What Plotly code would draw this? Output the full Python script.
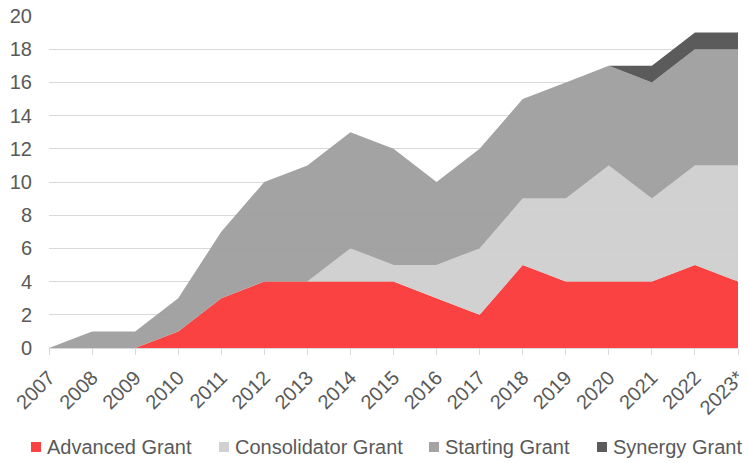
import plotly.graph_objects as go

years = ["2007", "2008", "2009", "2010", "2011", "2012", "2013", "2014", "2015",
         "2016", "2017", "2018", "2019", "2020", "2021", "2022", "2023*"]
advanced = [0, 0, 0, 1, 3, 4, 4, 4, 4, 3, 2, 5, 4, 4, 4, 5, 4]
consolidator = [0, 0, 0, 0, 0, 0, 0, 2, 1, 2, 4, 4, 5, 7, 5, 6, 7]
starting = [0, 1, 1, 2, 4, 6, 7, 7, 7, 5, 6, 6, 7, 6, 7, 7, 7]
synergy = [0, 0, 0, 0, 0, 0, 0, 0, 0, 0, 0, 0, 0, 0, 1, 1, 1]
series_names = ["Advanced Grant", "Consolidator Grant", "Starting Grant", "Synergy Grant"]

colors = ["rgba(250,56,56,0.95)", "rgba(206,206,206,0.93)",
          "rgba(156,156,156,0.93)", "rgba(88,88,88,0.98)"]

W, H = 748, 463
ML, MR, MT, MB = 49, 10, 16, 115
PW, PH = W - ML - MR, H - MT - MB

def px2x(px):
    return (px - ML) / PW

def py2y(py):
    return (H - MB - py) / PH

fig = go.Figure()
for name, vals, col in zip(series_names, [advanced, consolidator, starting, synergy], colors):
    fig.add_trace(go.Scatter(
        x=years, y=vals, name=name, mode="lines", stackgroup="one",
        line=dict(width=0, color=col), fillcolor=col, showlegend=False,
    ))

font_col = "#595959"
FONT = "Liberation Sans, Arial, sans-serif"

# custom legend (square swatch + label) matching reference spacing
swatch_cx = [36, 224, 434, 602]
legend_cy = 447
for name, col, cx in zip(series_names, colors, swatch_cx):
    fig.add_shape(type="rect", xref="paper", yref="paper",
                  x0=px2x(cx - 5), x1=px2x(cx + 5),
                  y0=py2y(legend_cy + 5), y1=py2y(legend_cy - 5),
                  fillcolor=col, line=dict(width=0))
    fig.add_annotation(text=name, xref="paper", yref="paper",
                       x=px2x(cx + 10), y=py2y(legend_cy), xanchor="left",
                       yanchor="middle", showarrow=False, borderpad=0,
                       font=dict(family=FONT, size=20, color=font_col))

fig.update_layout(
    width=W, height=H,
    margin=dict(l=ML, r=MR, t=MT, b=MB, autoexpand=False),
    paper_bgcolor="white", plot_bgcolor="white",
    font=dict(family=FONT, size=20, color=font_col),
    showlegend=False,
    xaxis=dict(
        type="category", range=[0, 16], showgrid=False, automargin=False,
        showline=True, linecolor="#d9d9d9", linewidth=1,
        ticks="outside", ticklen=6, tickcolor="#d9d9d9", ticklabelstandoff=3,
        tickangle=-45, tickfont=dict(family=FONT, size=20, color=font_col),
    ),
    yaxis=dict(
        range=[0, 20], dtick=2, showgrid=True, gridcolor="#d9d9d9", gridwidth=1,
        zeroline=False, showline=False, ticks="", ticklen=0, automargin=False,
        ticklabelstandoff=16,
        tickfont=dict(family=FONT, size=20, color=font_col),
    ),
)

fig.write_html("out.html", config={"displayModeBar": False},
               post_script="document.body.style.margin='0';document.body.style.overflow='hidden';")
